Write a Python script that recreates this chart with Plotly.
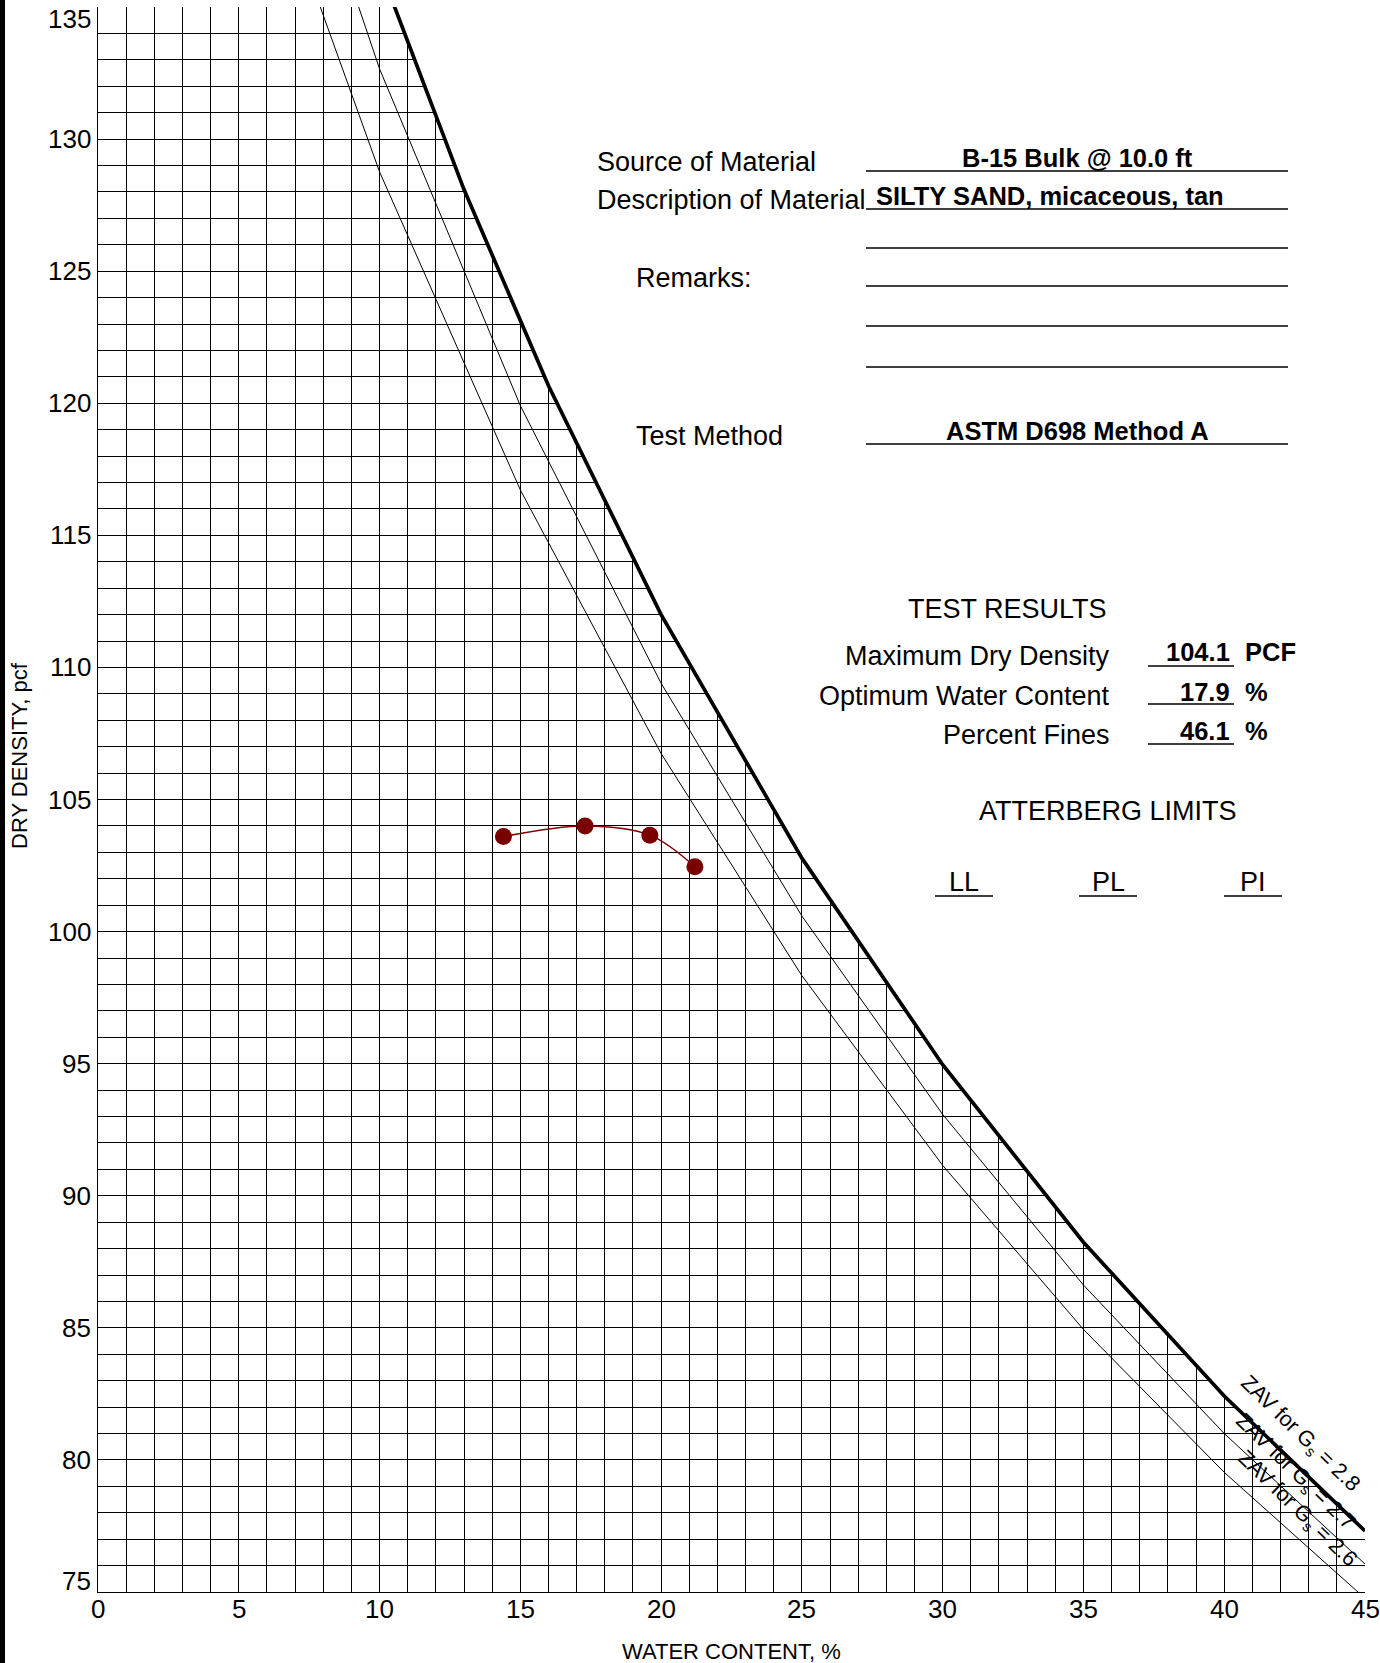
import plotly.graph_objects as go

# ---------------- data ----------------
water_content = [14.4, 17.3, 19.6, 21.2]          # %
dry_density = [103.6, 104.0, 103.65, 102.45]      # pcf

zav28_w = [10, 13, 16, 20, 25, 30, 35, 40, 45]
zav28_d = [136.50, 128.09, 120.66, 112.00, 102.78, 94.96, 88.24, 82.42, 77.31]
zav_w = [5, 10, 15, 20, 25, 30, 35, 40, 45]
zav27_d = [148.44, 132.66, 119.91, 109.40, 100.59, 93.08, 86.62, 81.00, 76.06]
zav26_d = [143.58, 128.76, 116.72, 106.74, 98.33, 91.15, 84.94, 79.53, 74.76]

x_ticks = [0, 5, 10, 15, 20, 25, 30, 35, 40, 45]
y_ticks = [75, 80, 85, 90, 95, 100, 105, 110, 115, 120, 125, 130, 135]

source = "B-15 Bulk @ 10.0 ft"
description = "SILTY SAND, micaceous, tan"
test_method = "ASTM D698 Method A"
result_labels = ["Maximum Dry Density", "Optimum Water Content", "Percent Fines"]
result_values = ["104.1", "17.9", "46.1"]
result_units = ["PCF", "%", "%"]
atterberg = ["LL", "PL", "PI"]

# ---------------- layout geometry ----------------
W, H = 1380, 1663
L, R, T, B = 98, 1365, 7, 1592
XR = [0, 45]
YR = [75, 135]
FONT = "Liberation Sans, Arial, Helvetica, sans-serif"


def dx(px):
    return XR[0] + (px - L) / (R - L) * (XR[1] - XR[0])


def dy(py):
    return YR[1] - (py - T) / (B - T) * (YR[1] - YR[0])


def pxp(px):
    return (px - L) / (R - L)


def pyp(py):
    return (B - py) / (B - T)


fig = go.Figure()

# white mask above the Gs = 2.8 curve (grid is only drawn below it)
fig.add_trace(go.Scatter(x=zav28_w + [XR[1], XR[1], zav28_w[0]],
                         y=zav28_d + [YR[1] + 10, YR[1] + 10, zav28_d[0]],
                         mode="lines", fill="toself", fillcolor="white",
                         line=dict(width=0, color="white"), hoverinfo="skip", showlegend=False))

fig.add_trace(go.Scatter(x=zav_w, y=zav26_d, mode="lines",
                         line=dict(color="black", width=1), hoverinfo="skip", showlegend=False))
fig.add_trace(go.Scatter(x=zav_w, y=zav27_d, mode="lines",
                         line=dict(color="black", width=1), hoverinfo="skip", showlegend=False))
fig.add_trace(go.Scatter(x=zav28_w, y=zav28_d, mode="lines",
                         line=dict(color="black", width=3.7), hoverinfo="skip", showlegend=False))
fig.add_trace(go.Scatter(x=water_content, y=dry_density, mode="lines+markers",
                         line=dict(color="#800000", width=1.5, shape="spline", smoothing=1.0),
                         marker=dict(color="#7a0000", size=17),
                         showlegend=False))

ann = []
shapes = []


def text(px, py, s, size=27, bold=False, anchor="left"):
    ann.append(dict(x=dx(px), y=dy(py), xref="x", yref="y", text=("<b>%s</b>" % s) if bold else s,
                    showarrow=False, xanchor=anchor, yanchor="middle",
                    font=dict(family=FONT, size=size, color="black")))


def hline(px0, px1, py, width=1.5):
    shapes.append(dict(type="line", xref="x", yref="y", x0=dx(px0), x1=dx(px1), y0=dy(py), y1=dy(py),
                       line=dict(color="black", width=width)))


# header block
text(595, 162, "Source of Material")
text(595, 200, "Description of Material")
text(634, 278, "Remarks:")
text(634, 436, "Test Method")
text(1077, 158, source, size=25.5, bold=True, anchor="center")
text(1050, 196, description, size=25.5, bold=True, anchor="center")
text(1077, 431, test_method, size=25.5, bold=True, anchor="center")
for py in [171, 209, 248, 286, 326, 367, 444]:
    hline(866, 1288, py)

# test results
text(1007, 609, "TEST RESULTS", anchor="center")
for i, (lab, val, unit) in enumerate(zip(result_labels, result_values, result_units)):
    yc = [656, 696, 735][i]
    text(1112, yc, lab, anchor="right")
    text(1232, yc - 4, val, size=25.5, bold=True, anchor="right")
    text(1243, yc - 4, unit, size=25.5, bold=True, anchor="left")
    hline(1148, 1234, [666, 704, 744][i])

text(1108, 811, "ATTERBERG LIMITS", anchor="center")
for i, a in enumerate(atterberg):
    cx = [964, 1108, 1253][i]
    text(cx, 882, a, anchor="center")
    hline(cx - 29, cx + 29, 896)

# ZAV labels
for (cx, cy, g) in [(1300, 1434, "2.8"), (1295, 1472, "2.7"), (1297, 1509, "2.6")]:
    ann.append(dict(x=dx(cx), y=dy(cy), xref="x", yref="y",
                    text="ZAV for G<sub>s</sub> = %s" % g, textangle=44, showarrow=False,
                    xanchor="center", yanchor="middle",
                    font=dict(family=FONT, size=21.5, color="black")))

# tick labels
for v in y_ticks:
    shift = -12 if v == YR[1] else (11 if v == YR[0] else 0)
    ann.append(dict(x=pxp(93), y=v, xref="paper", yref="y", text=str(v), showarrow=False,
                    xanchor="right", yanchor="middle", yshift=shift,
                    font=dict(family=FONT, size=26, color="black")))
for v in x_ticks:
    ann.append(dict(x=v, y=pyp(1609), xref="x", yref="paper", text=str(v), showarrow=False,
                    xanchor="center", yanchor="middle",
                    font=dict(family=FONT, size=26, color="black")))

# axis titles
ann.append(dict(x=pxp(19), y=pyp(756), xref="paper", yref="paper", text="DRY DENSITY, pcf",
                textangle=-90, showarrow=False, xanchor="center", yanchor="middle",
                font=dict(family=FONT, size=22, color="black")))
ann.append(dict(x=pxp(731), y=pyp(1651), xref="paper", yref="paper", text="WATER CONTENT, %",
                showarrow=False, xanchor="center", yanchor="middle",
                font=dict(family=FONT, size=22, color="black")))

# left page border bar
shapes.append(dict(type="rect", xref="paper", yref="paper", x0=pxp(0), x1=pxp(5),
                   y0=pyp(H), y1=pyp(0), fillcolor="black", line=dict(width=0), layer="above"))

grid = "black"
fig.update_layout(
    width=W, height=H,
    margin=dict(l=L, r=W - R, t=T, b=H - B),
    paper_bgcolor="white", plot_bgcolor="white",
    font=dict(family=FONT, color="black"),
    xaxis=dict(range=XR, tickvals=x_ticks, showticklabels=False,
               showgrid=True, gridcolor=grid, gridwidth=1,
               minor=dict(dtick=1, showgrid=True, gridcolor=grid, gridwidth=1),
               showline=True, linecolor="black", linewidth=1, mirror=False,
               zeroline=False, ticks=""),
    yaxis=dict(range=YR, tickvals=y_ticks, showticklabels=False,
               showgrid=True, gridcolor=grid, gridwidth=1,
               minor=dict(dtick=1, showgrid=True, gridcolor=grid, gridwidth=1),
               showline=True, linecolor="black", linewidth=1, mirror=False,
               zeroline=False, ticks=""),
    annotations=ann,
    shapes=shapes,
    showlegend=False,
)

fig.write_html("out.html", config={"displayModeBar": False},
               post_script="document.body.style.margin='0';document.body.style.overflow='hidden';")
